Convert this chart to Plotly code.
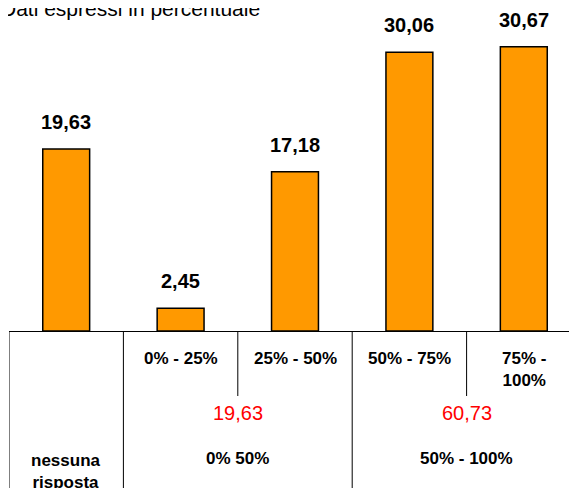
import plotly.graph_objects as go

# ---- data ----
categories = ["nessuna risposta", "0% - 25%", "25% - 50%", "50% - 75%", "75% - 100%"]
values = [19.63, 2.45, 17.18, 30.06, 30.67]
cat_labels = ["nessuna<br>risposta", "0% - 25%", "25% - 50%", "50% - 75%", "75% -<br>100%"]
group_labels = ["0% 50%", "50% - 100%"]
group_totals = [19.63, 60.73]
group_centers = [1.5, 3.5]
title_text = "Dati espressi in percentuale"

# ---- layout constants ----
# the page body has an 8px margin, so the figure starts at page (8, 8)
OFF = 8
W, H = 577 - OFF, 488 - OFF
AXIS_PAGE_Y = 331
ML, MR, MT = 9 - OFF, 0, 0
PH = AXIS_PAGE_Y - OFF - MT      # plot height in px
MB = H - MT - PH
PX_PER_UNIT = 9.27
FONT = "Arial, 'Liberation Sans', sans-serif"


def py(ypage):
    """paper y coordinate for a pixel row of the page"""
    return (AXIS_PAGE_Y - ypage) / PH


def fmt(v):
    return f"{v:.2f}".replace(".", ",")


fig = go.Figure()
fig.add_trace(go.Bar(
    x=categories, y=values, width=0.41,
    marker=dict(color="#FF9900", line=dict(color="#000000", width=1.5)),
    hoverinfo="skip",
))

ann = []
# value labels above bars
for c, v in zip(categories, values):
    ann.append(dict(x=c, y=v, xref="x", yref="y", text=fmt(v), showarrow=False,
                    yanchor="middle", yshift=27,
                    font=dict(family=FONT, size=20, color="#000000", weight="bold")))

# category labels below axis
for i, lab in enumerate(cat_labels):
    if i == 0:
        yp = py(471.5)
    elif "<br>" in lab:
        yp = py(369)
    else:
        yp = py(358)
    ann.append(dict(x=i, y=yp, xref="x", yref="paper", text=lab, showarrow=False,
                    yanchor="middle",
                    font=dict(family=FONT, size=17, color="#000000", weight="bold")))

# group totals and group names
for xc, tot, name in zip(group_centers, group_totals, group_labels):
    ann.append(dict(x=xc, y=py(413), xref="x", yref="paper", text=fmt(tot), showarrow=False,
                    yanchor="middle", font=dict(family=FONT, size=20, color="#FF0000")))
    ann.append(dict(x=xc, y=py(458), xref="x", yref="paper", text=name, showarrow=False,
                    yanchor="middle",
                    font=dict(family=FONT, size=17, color="#000000", weight="bold")))

# title at the very top (partly cut by the page edge, as in the reference)
ann.append(dict(x=(-1 - 9) / (W - ML - MR), y=py(16 - 7.3), xref="paper", yref="paper",
                text=title_text, showarrow=False, xanchor="left", yanchor="middle",
                font=dict(family=FONT, size=21, color="#000000")))

# table separator lines below the axis
shapes = []
for xb, ybot in [(-0.5, 490), (0.5, 490), (1.5, 396), (2.5, 490), (3.5, 396)]:
    shapes.append(dict(type="line", xref="x", yref="paper", x0=xb, x1=xb,
                       y0=0, y1=py(ybot), line=dict(color="#000000", width=1)))

fig.update_layout(
    width=W, height=H,
    margin=dict(l=ML, r=MR, t=MT, b=MB, pad=0),
    paper_bgcolor="white", plot_bgcolor="white",
    showlegend=False,
    annotations=ann, shapes=shapes,
    xaxis=dict(range=[-0.5, 4.465], showline=True, linecolor="#000000", linewidth=1,
               showticklabels=False, ticks="", showgrid=False, zeroline=False,
               fixedrange=True),
    yaxis=dict(range=[0, PH / PX_PER_UNIT], visible=False, showgrid=False, zeroline=False,
               fixedrange=True),
)

fig.write_html("out.html")
